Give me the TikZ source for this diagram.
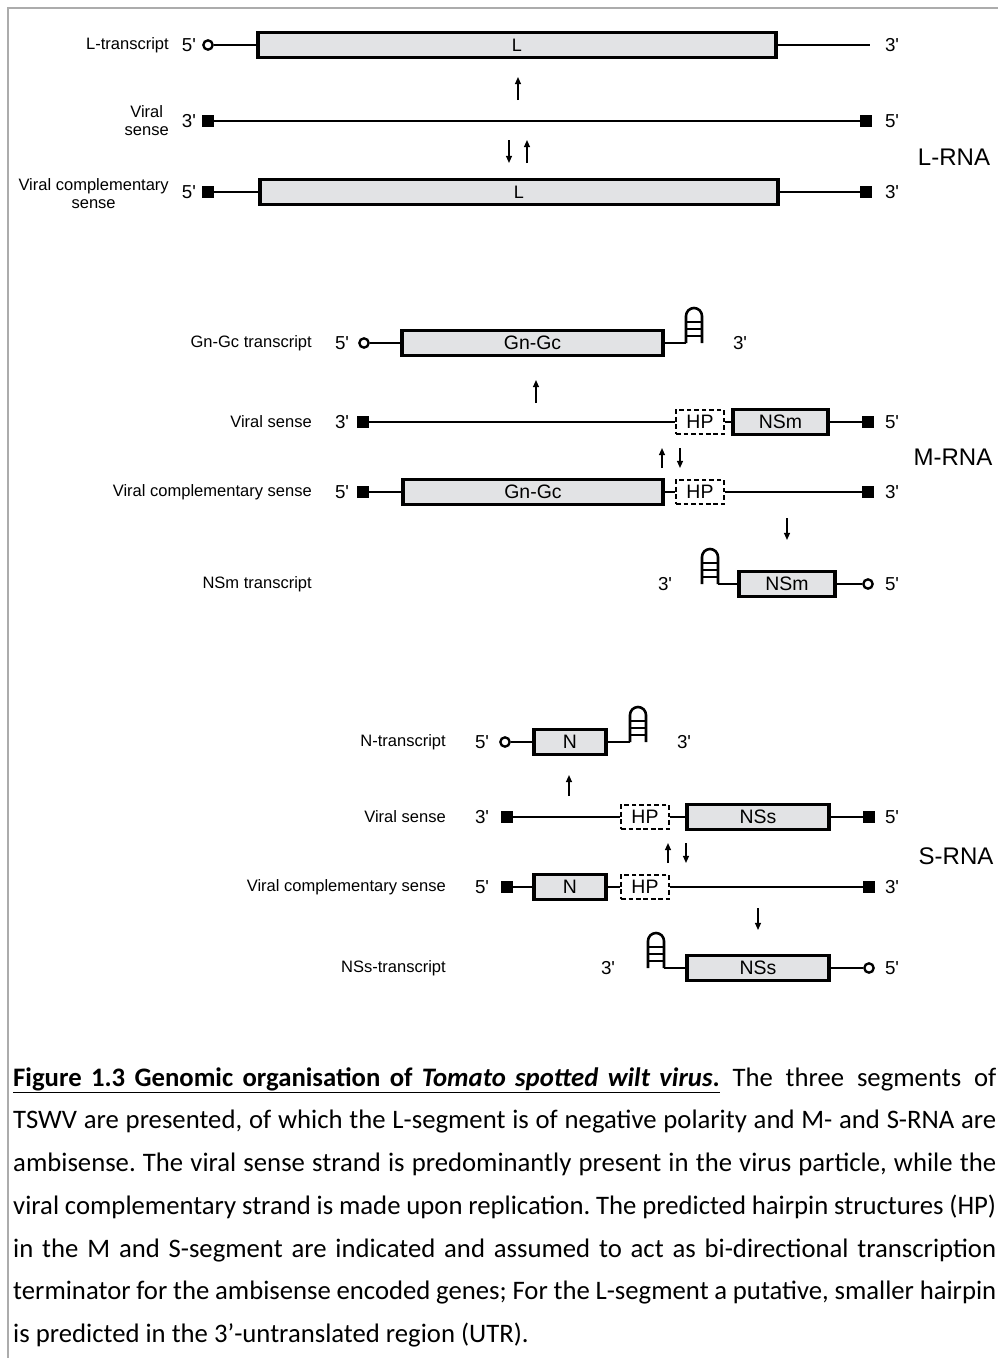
\documentclass[tikz,border=0pt]{standalone}
\usepackage{fontspec}
\setmainfont{Carlito}
\newfontfamily\arial{Liberation Sans}
\usetikzlibrary{arrows.meta}
\definecolor{genegray}{RGB}{226,227,229}
\definecolor{framegray}{RGB}{172,172,172}
\newcommand{\sq}{\textquotesingle}

\begin{document}
\begin{tikzpicture}[x=0.3mm, y=-0.3mm]
	\tikzset{
		strand/.style={line width=2.2pt},
		gene/.style={rectangle, draw, line width=2.6pt, fill=genegray, inner sep=0pt,
			minimum height=7.3mm, minimum width=#1*0.3mm, font=\arial\fontsize{16.6pt}{18pt}\selectfont},
		hp/.style={rectangle, draw, line width=2.1pt, dash pattern=on 4pt off 2.4pt, fill=white, inner sep=0pt,
			minimum height=7.3mm, minimum width=14.4mm, font=\arial\fontsize{16.6pt}{18pt}\selectfont},
		oend/.style={circle, draw, line width=2pt, fill=white, minimum size=2.8mm, inner sep=0pt},
		send/.style={rectangle, fill=black, minimum size=3.4mm, inner sep=0pt},
		lbl/.style={anchor=east, align=center, inner sep=0pt, font=\arial\fontsize{14.1pt}{15.4pt}\selectfont},
		pr/.style={inner sep=0pt, font=\arial\fontsize{16pt}{18pt}\selectfont},
		seg/.style={inner sep=0pt, font=\arial\fontsize{20.5pt}{22pt}\selectfont},
		arr/.style={line width=1.2pt, -{Triangle[length=6pt, width=5pt]}},
		hairpin/.pic={
			\draw[line width=2.2pt] (0,0) -- (0,-27) arc[start angle=180, end angle=360, radius=8] -- (16,0);
			\foreach \r in {7,14,21} \draw[line width=1.7pt] (0,-\r) -- (16,-\r);
		},
		caption/.style={anchor=base west, inner sep=0pt, text width=983*0.3mm, align=justify,
			font=\fontsize{22.8pt}{36.5pt}\selectfont\frenchspacing}
	}
	\useasboundingbox (0,0) rectangle (998,1358);
	\draw[framegray, line width=1.7pt] (8,1358) -- (8,8) -- (998,8);

	% L-RNA
	\node[lbl] (ltr) at (169,45) {L-transcript};
	\node[lbl] (lvs) at (169,121) {Viral\\sense};
	\node[lbl] (lvc) at (169,194) {Viral complementary\\sense};
	\node[seg] (lrna) at (954,157) {L-RNA};

	\node[pr] (l1a) at (189,45) {5\sq};
	\node[oend] (l1o) at (208,45) {};
	\node[gene=518] (l1g) at (517,45) {\fontsize{15.4pt}{17pt}\selectfont L};
	\coordinate (l1end) at (870,45);
	\node[pr] (l1b) at (892,45) {3\sq};

	\node[pr] (l2a) at (189,121) {3\sq};
	\node[send] (l2s) at (208,121) {};
	\node[send] (l2t) at (866,121) {};
	\node[pr] (l2b) at (892,121) {5\sq};

	\node[pr] (l3a) at (189,192) {5\sq};
	\node[send] (l3s) at (208,192) {};
	\node[gene=518] (l3g) at (519,192) {\fontsize{15.4pt}{17pt}\selectfont L};
	\node[send] (l3t) at (866,192) {};
	\node[pr] (l3b) at (892,192) {3\sq};

	\draw[strand] (l1o) -- (l1g) -- (l1end);
	\draw[strand] (l2s) -- (l2t);
	\draw[strand] (l3s) -- (l3g) -- (l3t);

	% M-RNA
	\node[lbl] (mtr) at (312,343) {Gn-Gc transcript};
	\node[lbl] (mvs) at (312,422) {Viral sense};
	\node[lbl] (mvc) at (312,492) {Viral complementary sense};
	\node[lbl] (mns) at (312,584) {NSm transcript};
	\node[seg] (mrna) at (953,457) {M-RNA};

	\node[pr] (m1a) at (342,343) {5\sq};
	\node[oend] (m1o) at (364,343) {};
	\node[gene=261] (m1g) at (532.5,343) {Gn-Gc};
	\coordinate (m1h) at (686,343);
	\pic at (m1h) {hairpin};
	\node[pr] (m1b) at (740,343) {3\sq};

	\node[pr] (m2a) at (342,422) {3\sq};
	\node[send] (m2s) at (363,422) {};
	\node[hp] (m2hp) at (700,422) {HP};
	\node[gene=95] (m2ns) at (780.5,422) {NSm};
	\node[send] (m2t) at (868,422) {};
	\node[pr] (m2b) at (892,422) {5\sq};

	\node[pr] (m3a) at (342,492) {5\sq};
	\node[send] (m3s) at (363,492) {};
	\node[gene=260] (m3g) at (533,492) {Gn-Gc};
	\node[hp] (m3hp) at (700,492) {HP};
	\node[send] (m3t) at (868,492) {};
	\node[pr] (m3b) at (892,492) {3\sq};

	\node[pr] (m4a) at (665,584) {3\sq};
	\pic at (702,584) {hairpin};
	\coordinate (m4h) at (718,584);
	\node[gene=96] (m4ns) at (787,584) {NSm};
	\node[oend] (m4o) at (868,584) {};
	\node[pr] (m4b) at (892,584) {5\sq};

	\draw[strand] (m1o) -- (m1g) -- (m1h);
	\draw[strand] (m2s) -- (m2hp) -- (m2ns) -- (m2t);
	\draw[strand] (m3s) -- (m3g) -- (m3hp) -- (m3t);
	\draw[strand] (m4h) -- (m4ns) -- (m4o);

	% S-RNA
	\node[lbl] (str) at (446,742) {N-transcript};
	\node[lbl] (svs) at (446,817) {Viral sense};
	\node[lbl] (svc) at (446,887) {Viral complementary sense};
	\node[lbl] (sns) at (446,968) {NSs-transcript};
	\node[seg] (srna) at (956,856) {S-RNA};

	\node[pr] (s1a) at (482,742) {5\sq};
	\node[oend] (s1o) at (505,742) {};
	\node[gene=72] (s1n) at (570,742) {N};
	\coordinate (s1h) at (630,742);
	\pic at (s1h) {hairpin};
	\node[pr] (s1b) at (684,742) {3\sq};

	\node[pr] (s2a) at (482,817) {3\sq};
	\node[send] (s2s) at (507,817) {};
	\node[hp] (s2hp) at (645,817) {HP};
	\node[gene=142] (s2ns) at (758,817) {NSs};
	\node[send] (s2t) at (869,817) {};
	\node[pr] (s2b) at (892,817) {5\sq};

	\node[pr] (s3a) at (482,887) {5\sq};
	\node[send] (s3s) at (507,887) {};
	\node[gene=72] (s3n) at (570,887) {N};
	\node[hp] (s3hp) at (645,887) {HP};
	\node[send] (s3t) at (869,887) {};
	\node[pr] (s3b) at (892,887) {3\sq};

	\node[pr] (s4a) at (608,968) {3\sq};
	\pic at (648,968) {hairpin};
	\coordinate (s4h) at (664,968);
	\node[gene=142] (s4ns) at (758,968) {NSs};
	\node[oend] (s4o) at (869,968) {};
	\node[pr] (s4b) at (892,968) {5\sq};

	\draw[strand] (s1o) -- (s1n) -- (s1h);
	\draw[strand] (s2s) -- (s2hp) -- (s2ns) -- (s2t);
	\draw[strand] (s3s) -- (s3n) -- (s3hp) -- (s3t);
	\draw[strand] (s4h) -- (s4ns) -- (s4o);

	% transcription / replication arrows
	\foreach \x/\ya/\yb in {518/100/77, 509/140/163, 527/163/140,
			536/403/380, 662/468/448, 680/448/468, 787/518/540,
			569/796/775, 668/863/843, 686/843/863, 758/908/930}
		\draw[arr] (\x,\ya) -- (\x,\yb);

	\node[caption] (cap) at (13,1086) {\underline{\textbf{\spaceskip=1.55\fontdimen2\font Figure 1.3 Genomic organisation of \textit{Tomato spotted wilt virus}.}} The three segments of\linebreak
		TSWV are presented, of which the L-segment is of negative polarity and M- and S-RNA are\linebreak
		ambisense. The viral sense strand is predominantly present in the virus particle, while the\linebreak
		viral complementary strand is made upon replication. The predicted hairpin structures (HP)\linebreak
		in the M and S-segment are indicated and assumed to act as bi-directional transcription\linebreak
		terminator for the ambisense encoded genes; For the L-segment a putative, smaller hairpin\linebreak
		is predicted in the 3’-untranslated region (UTR).};
\end{tikzpicture}
\end{document}
